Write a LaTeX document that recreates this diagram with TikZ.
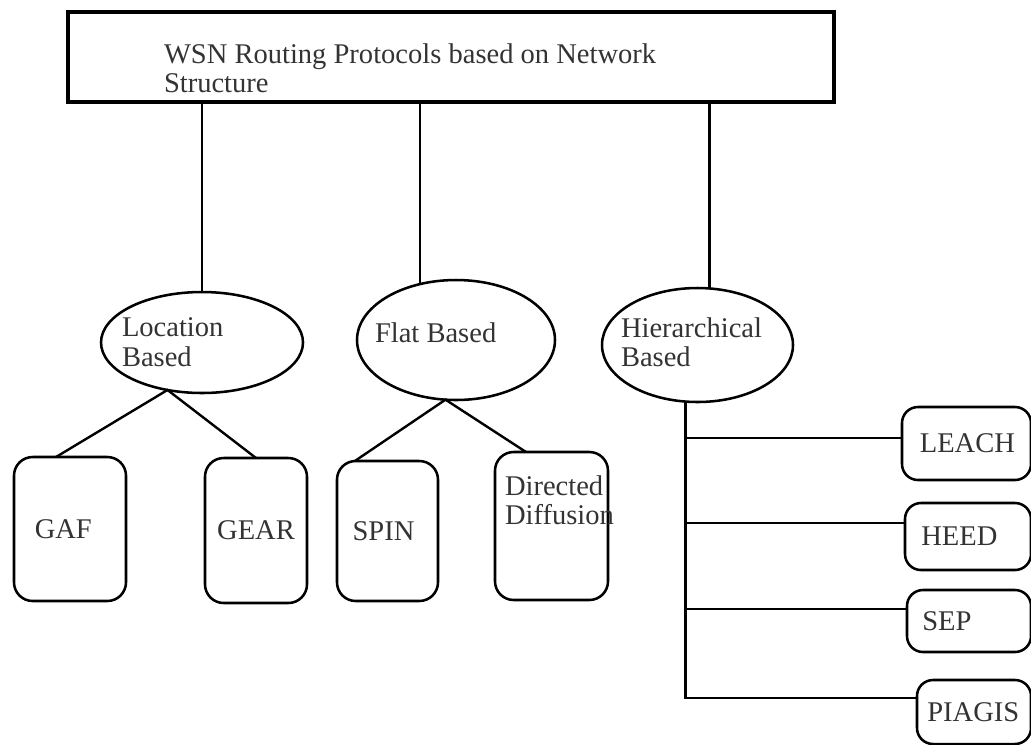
\documentclass[tikz,border=0pt]{standalone}
\usepackage{fontspec}
\setmainfont{Liberation Serif}
\usetikzlibrary{shapes.geometric}

\tikzset{
	wire/.style={line width=1.8pt},
	oval/.style={draw, ellipse, line width=1.9pt, inner sep=0pt, outer sep=0pt},
	pbox/.style={draw, rectangle, rounded corners=14pt, line width=1.9pt, inner sep=0pt, outer sep=0pt, text=black!80, font=\fontsize{21.4}{22}\selectfont},
	rbox/.style={pbox, rounded corners=12pt, text width=70pt, align=left},
	lbl/.style={inner sep=0pt, outer sep=0pt, anchor=north west, align=left, text=black!80, font=\fontsize{21.4}{22}\selectfont}
}

\begin{document}
\begin{tikzpicture}[x=0.75pt, y=-0.75pt]
			%%%%% START %%%%%
			\useasboundingbox (0,0) rectangle (1031,744);
			
			\node[draw, line width=2.8pt, inner sep=0pt, minimum width=574.5pt, minimum height=67.5pt] (root) at (451,57) {};
			\node[lbl] (rootlbl) at (164,43.5) {WSN Routing Protocols based on Network\\Structure};
			
			\node[oval, minimum width=151.5pt, minimum height=75.75pt] (loc) at (202,342.5) {};
			\node[lbl] (loclbl) at (122,318) {Location\\Based};
			
			\node[oval, minimum width=148.5pt, minimum height=90pt] (flat) at (456,340) {};
			\node[lbl] (flatlbl) at (375,322.5) {Flat Based};
			
			\node[oval, minimum width=143.25pt, minimum height=85.5pt] (hier) at (697.5,345) {};
			\node[lbl] (hierlbl) at (621,317.5) {Hierarchical\\Based};
			
			\draw[wire] (root.south -| loc.north) -- (loc.north);
			\draw[wire] (root.south -| flat.123) -- (flat.123);
			\draw[wire] (root.south -| hier.78) -- (hier.78);
			
			\node[pbox, minimum width=84pt, minimum height=108pt] (gaf) at (70,529) {GAF\hspace*{10pt}};
			\node[pbox, minimum width=76.5pt, minimum height=108.75pt] (gear) at (256,530.5) {GEAR};
			\node[pbox, minimum width=75.75pt, minimum height=105pt] (spin) at (387.5,531) {SPIN\hspace*{6pt}};
			\node[pbox, minimum width=84.75pt, minimum height=111pt] (dd) at (551.5,526) {};
			\node[lbl] (ddlbl) at (505,475.5) {Directed\\Diffusion};
			
			\draw[wire] (gaf.101) -- (loc.234) -- (gear.north);
			\draw[wire] (spin.115) -- (flat.260) -- (dd.109);
			
			\node[rbox, minimum width=96.75pt, minimum height=54.75pt] (leach) at (966.5,443.5) {LEACH};
			\node[rbox, minimum width=94.5pt, minimum height=50.25pt] (heed) at (968,536.5) {HEED\\[-4pt]};
			\node[rbox, minimum width=93pt, minimum height=46.5pt] (sep) at (969,621) {SEP};
			\node[rbox, minimum width=85.5pt, minimum height=48pt] (piagis) at (974,712) {PIAGIS\\[-4pt]};
			
			\draw[wire] (hier.258) |- (piagis.166);
			\draw[wire] (hier.258 |- leach.175) -- (leach.175);
			\draw[wire] (hier.258 |- heed.168) -- (heed.168);
			\draw[wire] (hier.258 |- sep.169) -- (sep.169);
			
			%%%%% END %%%%%
\end{tikzpicture}
\end{document}
